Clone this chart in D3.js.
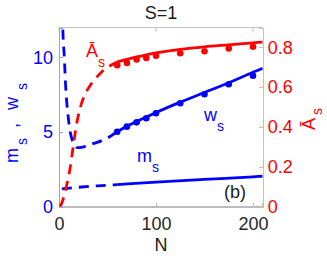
<!DOCTYPE html>
<meta charset="utf-8">
<style>
body { margin: 0; background: #fff; }
svg { display: block; font-family: "Liberation Sans", Arial, sans-serif; }
.axis path, .axis line { shape-rendering: crispEdges; }
</style>
<body>
<div id="chart"></div>
<script src="https://cdnjs.cloudflare.com/ajax/libs/d3/7.8.5/d3.min.js"></script>
<script>
// simulation points
var dotN = [60, 70, 80, 90, 100, 125, 150, 175, 200];
var dotA = [0.711, 0.722, 0.739, 0.747, 0.758, 0.771, 0.781, 0.795, 0.803];
var dotW = [5.02, 5.36, 5.65, 5.92, 6.26, 6.93, 7.53, 8.20, 8.77];

// theory curves, dashed part (small N) and solid part
var aDashN = [1, 3, 5, 8, 11, 14, 17, 20, 24, 28, 33, 38, 43, 48, 54, 60];
var aDashV = [0, 0.02, 0.05, 0.11, 0.18, 0.28, 0.38, 0.46, 0.53, 0.575, 0.615, 0.645, 0.672, 0.693, 0.712, 0.727];
var aSolidN = [60, 70, 80, 90, 100, 125, 150, 175, 200, 210];
var aSolidV = [0.727, 0.74, 0.752, 0.763, 0.772, 0.79, 0.803, 0.813, 0.823, 0.827];

var wDashN = [3.3, 4.5, 5.5, 6.5, 8, 9.5, 11, 13, 16, 19, 23, 28, 35, 40, 45, 50, 55, 60];
var wDashV = [13, 11.0, 10.0, 8.5, 7.0, 6.0, 5.2, 4.6, 4.15, 3.95, 3.97, 4.07, 4.22, 4.32, 4.45, 4.6, 4.8, 5.02];
var wSolidN = [60, 70, 80, 90, 100, 125, 150, 175, 200, 210];
var wSolidV = [5.02, 5.38, 5.7, 6.0, 6.3, 7.0, 7.65, 8.3, 9.0, 9.27];

var mDashN = [3, 20, 40, 60];
var mDashV = [1.19, 1.3, 1.4, 1.48];
var mSolidN = [60, 100, 150, 200, 210];
var mSolidV = [1.48, 1.64, 1.83, 2.0, 2.04];

var xTicks = [0, 100, 200];
var yLeftTicks = [0, 5, 10];
var yRightTicks = [0, 0.2, 0.4, 0.6, 0.8];

var width = 327, height = 256;
var L = 59, R = 262.7, T = 27.5, B = 206.7;
var blue = "#0000ff", red = "#ff0000";

var svg = d3.select("#chart").append("svg")
    .attr("width", width)
    .attr("height", height);

var x = d3.scaleLinear().domain([0, 210]).range([L, R]);
var yL = d3.scaleLinear().domain([0, 12]).range([B, T]);
var yR = d3.scaleLinear().domain([0, 0.9]).range([B, T]);

svg.append("defs").append("clipPath").attr("id", "plot")
    .append("rect").attr("x", L).attr("y", T).attr("width", R - L).attr("height", B - T);

// frame: top edge
svg.append("line").attr("x1", L).attr("x2", R).attr("y1", T).attr("y2", T)
    .attr("stroke", "#c4c4c4").attr("stroke-width", 1);

// bottom axis
var gX = svg.append("g").attr("class", "axis")
    .attr("transform", "translate(0," + B + ")")
    .call(d3.axisBottom(x).tickValues(xTicks).tickSize(-4).tickPadding(11));
gX.select(".domain").attr("stroke", "#bcbcbc").attr("stroke-width", 1.5);
gX.selectAll(".tick line").attr("stroke", "#bcbcbc");
gX.selectAll(".tick text").attr("fill", "#262626").attr("font-size", 18)
    .attr("font-family", "Liberation Sans, Arial, sans-serif").attr("dy", "0.71em");

// top ticks
svg.selectAll(".ttick").data(xTicks).enter().append("line")
    .attr("x1", d => x(d)).attr("x2", d => x(d)).attr("y1", T).attr("y2", T + 4)
    .attr("stroke", "#bcbcbc");

// left axis
var gL = svg.append("g").attr("class", "axis")
    .attr("transform", "translate(" + L + ",0)")
    .call(d3.axisLeft(yL).tickValues(yLeftTicks).tickSize(-4).tickPadding(6));
gL.select(".domain").attr("stroke", "#9a9aff");
gL.selectAll(".tick line").attr("stroke", "#9a9aff");
gL.selectAll(".tick text").attr("fill", blue).attr("font-size", 18)
    .attr("font-family", "Liberation Sans, Arial, sans-serif");

// right axis
var gR = svg.append("g").attr("class", "axis")
    .attr("transform", "translate(" + R + ",0)")
    .call(d3.axisRight(yR).tickValues(yRightTicks).tickSize(-4).tickPadding(5)
        .tickFormat(d => d === 0 ? "0" : d3.format(".1f")(d)));
gR.select(".domain").attr("stroke", "#ffaaaa");
gR.selectAll(".tick line").attr("stroke", "#ffaaaa");
gR.selectAll(".tick text").attr("fill", red).attr("font-size", 18)
    .attr("font-family", "Liberation Sans, Arial, sans-serif");

// curves
var plot = svg.append("g").attr("clip-path", "url(#plot)");

function drawCurve(ns, vs, scale, color, dashed) {
    var pts = ns.map((n, i) => [n, vs[i]]);
    var line = d3.line().x(d => x(d[0])).y(d => scale(d[1])).curve(d3.curveMonotoneX);
    plot.append("path").datum(pts)
        .attr("d", line)
        .attr("fill", "none")
        .attr("stroke", color)
        .attr("stroke-width", 2.8)
        .attr("stroke-dasharray", dashed ? "10,7" : null);
}

drawCurve(mDashN, mDashV, yL, blue, true);
drawCurve(mSolidN, mSolidV, yL, blue, false);
drawCurve(wDashN, wDashV, yL, blue, true);
drawCurve(wSolidN, wSolidV, yL, blue, false);
drawCurve(aDashN, aDashV, yR, red, true);
drawCurve(aSolidN, aSolidV, yR, red, false);

plot.selectAll(".dw").data(dotN).enter().append("circle")
    .attr("cx", d => x(d)).attr("cy", (d, i) => yL(dotW[i])).attr("r", 3.3).attr("fill", blue);
plot.selectAll(".da").data(dotN).enter().append("circle")
    .attr("cx", d => x(d)).attr("cy", (d, i) => yR(dotA[i])).attr("r", 3.3).attr("fill", red);

// title and axis titles
svg.append("text").attr("x", 161).attr("y", 19.3).attr("text-anchor", "middle")
    .attr("font-size", 18).attr("fill", "#1a1a1a").text("S=1");
svg.append("text").attr("x", 161).attr("y", 250.5).attr("text-anchor", "middle")
    .attr("font-size", 18).attr("fill", "#1a1a1a").text("N");

var yl = svg.append("text").attr("transform", "translate(18,0) rotate(-90)")
    .attr("font-size", 18).attr("fill", blue);
yl.append("tspan").attr("x", -163).attr("y", 0).text("m");
yl.append("tspan").attr("x", -145).attr("y", 9).attr("font-size", 14).text("s");
yl.append("tspan").attr("x", -128).attr("y", 0).text(",");
yl.append("tspan").attr("x", -110).attr("y", 0).text("w");
yl.append("tspan").attr("x", -90).attr("y", 9).attr("font-size", 14).text("s");

var yr = svg.append("text").attr("transform", "translate(315,0) rotate(-90)")
    .attr("font-size", 18).attr("fill", red);
yr.append("tspan").attr("x", -130).attr("y", 0).text("\u0100");
yr.append("tspan").attr("x", -115).attr("y", 7).attr("font-size", 14).text("s");

// in-plot labels
function label(xp, yp, main, color) {
    var t = svg.append("text").attr("x", xp).attr("y", yp).attr("font-size", 18).attr("fill", color);
    t.append("tspan").text(main);
    t.append("tspan").attr("dy", 10).attr("font-size", 14).text("s");
}
label(86, 56.7, "\u0100", red);
label(204, 120.5, "w", blue);
label(137, 162.3, "m", blue);

svg.append("text").attr("x", 224).attr("y", 198).attr("font-size", 18)
    .attr("fill", "#1a1a1a").text("(b)");
</script>
</body>
